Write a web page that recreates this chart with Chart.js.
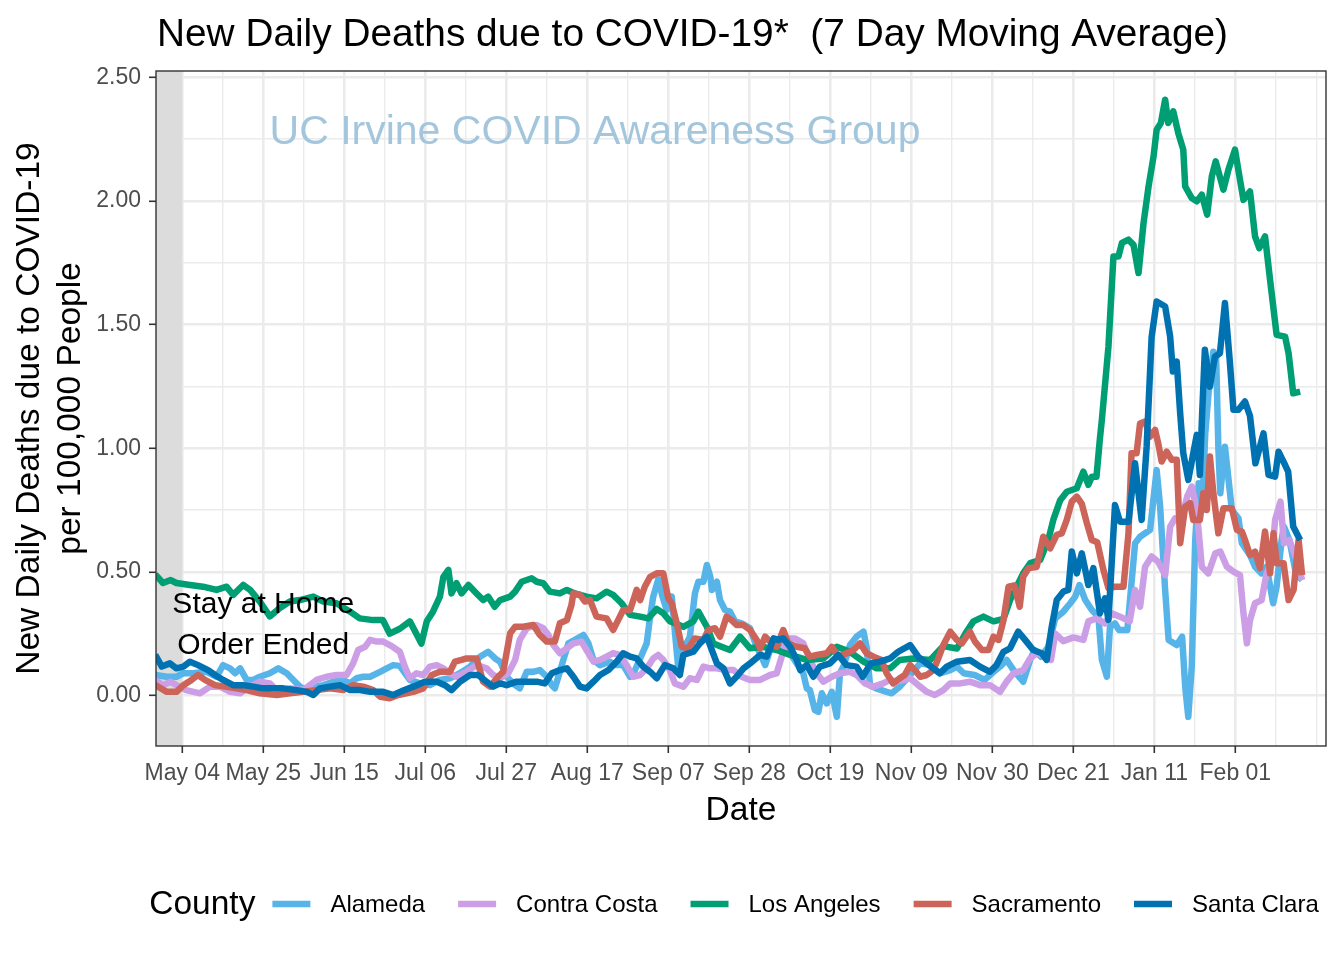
<!DOCTYPE html>
<html><head><meta charset="utf-8">
<script src="https://cdn.jsdelivr.net/npm/chart.js@4.4.0/dist/chart.umd.min.js"></script>
<style>html,body{margin:0;padding:0;background:#fff;}canvas{display:block;}</style>
</head><body>
<canvas id="c" width="1344" height="960"></canvas>
<script>
// ---------- data (x = days since May 04, 2020) ----------
const countyNames = ['Alameda', 'Contra Costa', 'Los Angeles', 'Sacramento', 'Santa Clara'];
const countyColors = ['#56B4E9', '#CC9EE6', '#009E73', '#CC6459', '#0072B2'];
const tickLabels = ['May 04','May 25','Jun 15','Jul 06','Jul 27','Aug 17','Sep 07','Sep 28','Oct 19','Nov 09','Nov 30','Dec 21','Jan 11','Feb 01'];
const tickDays = [0,21,42,63,84,105,126,147,168,189,210,231,252,273];
const minorTickDays = [10.5,31.5,52.5,73.5,94.5,115.5,136.5,157.5,178.5,199.5,220.5,241.5,262.5,283.5,294];
const yTicks = [0,0.5,1,1.5,2,2.5];
const yMinorTicks = [0.25,0.75,1.25,1.75,2.25];
const xRange = [-6.8, 296.5];
const yRange = [-0.204, 2.525];
const orderEndDay = 0;
const titleText = 'New Daily Deaths due to COVID-19*  (7 Day Moving Average)';
const watermarkText = 'UC Irvine COVID Awareness Group';
const watermarkAt = [107, 2.274];
const noteLines = ['Stay at Home', 'Order Ended'];
const noteAt = [21, 0.285];
const legendTitle = 'County';

const alameda = [[-7,0.083],[-4,0.076],[-1.5,0.076],[0.3,0.09],[2.8,0.09],[6.3,0.096],[8.9,0.076],[10.6,0.123],[12.4,0.11],[13.7,0.09],[15,0.11],[16.7,0.063],[18.4,0.063],[20.1,0.076],[22.7,0.09],[24.9,0.11],[27.1,0.09],[28.8,0.063],[30.5,0.036],[32.3,0.022],[34,0.036],[36.6,0.042],[39.2,0.056],[41.7,0.063],[43.5,0.049],[45.2,0.07],[46.9,0.076],[48.7,0.076],[51.3,0.096],[53,0.11],[54.7,0.123],[56.4,0.12],[59,0.063],[61.6,0.049],[64.2,0.042],[66.8,0.063],[69.4,0.07],[72,0.09],[74.6,0.117],[77.2,0.157],[79.3,0.177],[81.1,0.15],[82.4,0.137],[84.1,0.076],[86.3,0.042],[87.5,0.029],[89.3,0.096],[91,0.096],[92.7,0.103],[94.5,0.076],[95.8,0.042],[96.6,0.029],[97.5,0.076],[98.8,0.144],[100.1,0.211],[101.8,0.225],[104,0.245],[105.3,0.211],[106.6,0.144],[108.3,0.123],[110.8,0.137],[112.5,0.123],[114.3,0.123],[116.1,0.076],[117,0.09],[118.7,0.15],[120.4,0.211],[121.3,0.319],[122.1,0.40],[123.4,0.47],[124.5,0.40],[125.6,0.346],[126.9,0.40],[127.7,0.26],[128.6,0.11],[129.9,0.184],[131.6,0.238],[132.9,0.413],[133.8,0.46],[135.1,0.46],[136,0.528],[136.9,0.48],[137.3,0.427],[138.6,0.46],[139.4,0.386],[140.7,0.346],[142,0.339],[143.3,0.30],[145,0.292],[147.2,0.272],[148.9,0.197],[150.2,0.157],[151.1,0.123],[152.4,0.184],[154.5,0.197],[155.8,0.211],[157.6,0.171],[159.3,0.13],[161,0.09],[161.9,0.029],[162.7,0.022],[164,-0.059],[164.9,-0.066],[165.8,0.009],[167.1,-0.032],[168.4,0.015],[169.7,-0.086],[170.5,0.09],[171.4,0.117],[173.1,0.204],[174.8,0.238],[176.6,0.258],[177.4,0.197],[178.3,0.04],[179.9,0.029],[182.6,0.015],[183.9,0.009],[186,0.036],[188.7,0.083],[191.3,0.13],[193.9,0.123],[196.4,0.09],[199.1,0.103],[200.8,0.117],[202.6,0.09],[205.4,0.083],[208,0.063],[209.9,0.09],[212,0.117],[213.7,0.144],[215.5,0.103],[218,0.056],[219.8,0.144],[220.9,0.184],[222.6,0.157],[224.5,0.197],[226.3,0.312],[228.4,0.339],[230.2,0.373],[231.5,0.40],[232.6,0.447],[234.1,0.386],[235.8,0.346],[237.5,0.319],[238.4,0.144],[239.7,0.076],[240.5,0.278],[241.8,0.292],[242.8,0.265],[245,0.265],[247,0.616],[248.3,0.642],[249.6,0.656],[250.9,0.67],[252.6,0.912],[253.5,0.764],[254.8,0.427],[255.7,0.225],[257.8,0.204],[259.2,0.238],[260,0.036],[260.8,-0.086],[261.7,0.117],[262.6,0.629],[263.5,0.858],[264.4,0.75],[265.2,1.06],[266.2,1.25],[267.3,1.39],[268,1.38],[268.6,1.0],[269.1,0.818],[270.3,1.006],[272.1,0.75],[273.8,0.717],[274.7,0.616],[276.8,0.568],[278.1,0.521],[279.8,0.494],[281.1,0.521],[282.8,0.373],[283.7,0.44],[285,0.629],[285.6,0.683],[287,0.629],[288.7,0.494],[290.3,0.467]];

const contraCosta = [[-7,0.063],[-5,0.042],[-3,0.056],[-1.5,0.042],[1,0.022],[4.6,0.009],[7.2,0.036],[9.8,0.036],[12.4,0.015],[15,0.009],[17.6,0.036],[20.1,0.056],[22.7,0.049],[24.5,0.022],[28,0.029],[31.4,0.022],[34.8,0.063],[37.4,0.076],[40,0.083],[42.6,0.083],[44.3,0.13],[45.6,0.184],[47.4,0.197],[48.7,0.225],[50.4,0.218],[52.1,0.218],[54.3,0.2],[56.4,0.177],[57.7,0.117],[59,0.07],[60.7,0.09],[62.5,0.083],[64.2,0.117],[66,0.123],[67.7,0.11],[69.4,0.09],[71.1,0.076],[73.7,0.096],[76.3,0.123],[78.9,0.11],[80.6,0.083],[82.4,0.07],[84.5,0.09],[86.3,0.144],[87.5,0.225],[89.3,0.272],[91.9,0.285],[93.6,0.272],[94.9,0.245],[96.2,0.204],[97.9,0.171],[99.7,0.191],[101.4,0.211],[103.5,0.218],[104.8,0.184],[106.6,0.137],[108.3,0.144],[110,0.157],[111.7,0.171],[113.4,0.164],[115.2,0.123],[116.9,0.076],[118.7,0.083],[120.4,0.11],[122.1,0.15],[123.4,0.164],[124.7,0.144],[126.4,0.103],[127.7,0.049],[129.9,0.036],[131.6,0.07],[133.4,0.063],[135.1,0.117],[136.8,0.11],[138.6,0.11],[140.8,0.103],[142.9,0.103],[145,0.076],[147.2,0.063],[149.8,0.063],[152.4,0.083],[154.1,0.09],[155.4,0.157],[156.7,0.231],[158.9,0.231],[161,0.211],[162.7,0.144],[164.5,0.09],[166.2,0.056],[168.4,0.076],[170.5,0.09],[173.1,0.096],[174.8,0.083],[177,0.049],[179.2,0.036],[181.7,0.049],[183.5,0.063],[185.2,0.056],[188.7,0.07],[191.3,0.036],[193,0.015],[195.1,0.002],[197.3,0.022],[199.1,0.049],[201.7,0.049],[204.2,0.056],[206.8,0.042],[209.4,0.042],[212,0.015],[213.7,0.056],[215.5,0.09],[218,0.103],[219.8,0.15],[221.5,0.171],[224.1,0.157],[225.2,0.144],[226.3,0.25],[228.4,0.22],[231,0.235],[233.6,0.225],[234.9,0.30],[237,0.312],[239.2,0.292],[240.9,0.333],[243.1,0.319],[245.6,0.30],[247,0.427],[248.3,0.359],[249.6,0.521],[251.3,0.562],[253,0.541],[254.8,0.487],[256.1,0.683],[257.4,0.717],[259,0.71],[260.5,0.804],[261.7,0.845],[263,0.75],[264.3,0.521],[266,0.494],[267.8,0.575],[269.1,0.582],[270.8,0.521],[272.5,0.501],[274.2,0.487],[275.1,0.333],[276,0.211],[276.8,0.305],[278.1,0.373],[279.8,0.386],[281.1,0.494],[282.4,0.535],[283.3,0.71],[284.7,0.784],[285.6,0.616],[287,0.629],[288.9,0.548],[290.3,0.467]];

const losAngeles = [[-7,0.49],[-5,0.455],[-3,0.467],[-1.5,0.455],[2,0.447],[5.4,0.44],[8.9,0.427],[11.5,0.44],[13.2,0.407],[15.8,0.447],[17.6,0.427],[20.1,0.38],[22.7,0.32],[25.3,0.354],[27.9,0.38],[30.5,0.386],[34,0.40],[36.6,0.38],[40,0.373],[43.5,0.339],[46,0.312],[49.5,0.305],[52,0.305],[53.8,0.25],[56.4,0.27],[59,0.30],[62,0.21],[63.4,0.30],[65,0.339],[66.8,0.40],[67.7,0.48],[69,0.508],[69.8,0.413],[71.1,0.454],[72.4,0.413],[74.2,0.447],[76.3,0.413],[78,0.386],[79.3,0.40],[81,0.359],[82.4,0.386],[85,0.40],[86.3,0.42],[88,0.46],[90.6,0.474],[91.9,0.46],[93.6,0.454],[95.3,0.42],[97.9,0.413],[99.7,0.427],[101.8,0.413],[104.8,0.40],[107.4,0.393],[110,0.42],[111.7,0.407],[113.9,0.373],[116.1,0.326],[118.7,0.319],[120.8,0.312],[123,0.35],[124.7,0.333],[126.4,0.30],[129.9,0.278],[132.5,0.30],[133.8,0.339],[136,0.278],[137.7,0.21],[139.8,0.197],[142,0.184],[144.6,0.238],[147.2,0.191],[150.6,0.197],[154.1,0.184],[157.6,0.164],[161.9,0.144],[166.2,0.15],[169.7,0.197],[173.1,0.177],[176.6,0.137],[180,0.11],[183.5,0.11],[186,0.144],[189.5,0.15],[193.9,0.144],[197.3,0.2],[200.8,0.19],[203.4,0.26],[205.1,0.30],[207.7,0.319],[210.3,0.30],[212.9,0.31],[214.6,0.386],[216.3,0.44],[218,0.494],[219.8,0.535],[222.4,0.548],[224.5,0.629],[225.8,0.71],[227.6,0.79],[229.3,0.824],[231.9,0.838],[233.6,0.905],[234.9,0.852],[235.8,0.885],[237,0.885],[237.9,1.04],[238.4,1.115],[240.1,1.41],[241.4,1.775],[242.7,1.775],[243.6,1.83],[245.3,1.843],[246.6,1.822],[247.9,1.708],[249.2,1.91],[250.5,2.058],[251.8,2.18],[252.6,2.288],[253.7,2.315],[254.8,2.409],[255.6,2.315],[256.9,2.362],[258.2,2.274],[259.5,2.207],[260,2.058],[261.7,2.011],[263,1.998],[264.3,2.025],[265.7,1.944],[266.9,2.099],[267.9,2.16],[269.9,2.045],[271.2,2.126],[272.9,2.207],[274.2,2.085],[275.1,2.004],[276.8,2.038],[278.1,1.856],[279.2,1.809],[280.7,1.856],[282,1.681],[283.7,1.458],[285.9,1.451],[286.8,1.384],[288,1.222],[289.8,1.229]];

const sacramento = [[-7,0.042],[-4,0.015],[-1.5,0.015],[0.3,0.042],[2.4,0.063],[4.1,0.083],[5.9,0.063],[8.5,0.042],[11.1,0.036],[14.1,0.029],[16.7,0.022],[20.1,0.009],[24.5,0.002],[27.9,0.009],[31.4,0.015],[34.8,0.022],[38.3,0.029],[41.7,0.022],[44.3,0.042],[46.9,0.036],[49.5,0.022],[51.3,-0.005],[53.8,-0.011],[56,0.002],[59.9,0.015],[62.5,0.029],[64.7,0.083],[66.8,0.096],[69.4,0.096],[70.7,0.137],[72.4,0.144],[73.7,0.15],[76.3,0.15],[78,0.056],[79.8,0.036],[81.9,0.076],[83.2,0.096],[85,0.252],[86.3,0.278],[88.4,0.278],[91,0.285],[92.7,0.245],[94.5,0.218],[96.6,0.218],[97.9,0.292],[99.7,0.305],[100.9,0.366],[101.4,0.413],[103.1,0.407],[104.4,0.38],[105.7,0.386],[107.4,0.319],[110,0.312],[111.7,0.265],[113,0.305],[114.3,0.346],[116.1,0.346],[117.8,0.427],[118.7,0.386],[119.9,0.44],[121.3,0.48],[123,0.494],[124.7,0.494],[126,0.393],[126.9,0.373],[128.2,0.292],[129.5,0.197],[131.2,0.191],[132.9,0.231],[135.1,0.225],[136.4,0.265],[138.1,0.272],[139.4,0.238],[141.1,0.319],[142.4,0.305],[143.7,0.285],[145.5,0.285],[147.2,0.265],[148.9,0.225],[149.8,0.191],[151.1,0.238],[152.4,0.218],[154.1,0.197],[155.8,0.265],[157.1,0.211],[159.3,0.197],[161.4,0.191],[162.7,0.157],[164.5,0.164],[167.1,0.171],[168.4,0.197],[170.1,0.157],[172.2,0.171],[174,0.184],[175.7,0.211],[177.4,0.171],[179.2,0.157],[181.3,0.144],[182.6,0.09],[184.3,0.049],[186,0.07],[187.3,0.083],[188.7,0.123],[189.9,0.103],[191.3,0.076],[193,0.083],[194.7,0.103],[196,0.15],[197.3,0.204],[199.1,0.258],[200.8,0.225],[202.1,0.211],[204.2,0.258],[205.5,0.218],[207.3,0.184],[209,0.184],[210.3,0.238],[211.6,0.225],[212.9,0.305],[214.2,0.44],[215.7,0.445],[217.1,0.359],[218,0.48],[219.4,0.515],[221.5,0.52],[223.2,0.642],[225,0.595],[226.7,0.65],[228,0.656],[229.3,0.71],[230.6,0.784],[231.9,0.804],[233.2,0.775],[234.5,0.697],[235.8,0.629],[237.2,0.62],[238.8,0.508],[240.1,0.434],[241.8,0.44],[244,0.44],[245.3,0.656],[246.1,0.98],[247.4,0.98],[248.3,1.10],[249.6,1.108],[250.9,1.047],[252.2,1.074],[253,1.02],[253.9,0.946],[255.2,0.986],[256.5,0.953],[257.8,0.953],[258.7,0.616],[260,0.764],[261.3,0.778],[262.1,0.71],[263.8,0.71],[264.7,0.818],[265.6,0.75],[266.4,0.966],[267.3,0.818],[268.6,0.656],[269.9,0.757],[272.1,0.757],[273.4,0.67],[274.7,0.663],[275.5,0.629],[276.8,0.568],[278.1,0.582],[279.4,0.515],[280.7,0.663],[282,0.494],[282.9,0.656],[283.7,0.535],[285.5,0.535],[286.8,0.386],[288.1,0.427],[289.4,0.629],[290.3,0.487]];

const santaClara = [[-7,0.165],[-5.3,0.117],[-3.2,0.13],[-1.5,0.11],[0.3,0.117],[2,0.137],[4.1,0.123],[6.7,0.103],[8.5,0.083],[10.6,0.063],[13.2,0.042],[15.8,0.042],[18.4,0.036],[21,0.029],[23.6,0.029],[26.2,0.029],[29.7,0.022],[32.3,0.015],[34,0.002],[35.7,0.029],[38.3,0.036],[40.9,0.042],[43.5,0.022],[46.1,0.022],[48.7,0.015],[52.1,0.015],[54.7,0.002],[57.3,0.02],[59.9,0.036],[62.9,0.056],[66,0.056],[68.1,0.042],[69.8,0.022],[72,0.056],[74.6,0.083],[76.7,0.083],[78.9,0.056],[80.6,0.036],[82.4,0.049],[84.1,0.042],[86.7,0.056],[89.3,0.056],[91.9,0.056],[94,0.049],[95.8,0.09],[97.9,0.103],[99.7,0.11],[101.4,0.076],[103.1,0.036],[104.8,0.029],[106.6,0.056],[108.3,0.083],[110.5,0.103],[112.6,0.137],[114.3,0.171],[116.1,0.157],[117.8,0.15],[119.5,0.117],[121.3,0.096],[123,0.07],[125.1,0.123],[127.3,0.11],[129,0.083],[129.9,0.164],[132.5,0.177],[134.2,0.211],[136,0.238],[137.3,0.184],[138.6,0.13],[140.3,0.11],[142,0.049],[143.7,0.076],[145.5,0.11],[147.2,0.13],[149.8,0.164],[151.5,0.157],[153.3,0.231],[154.5,0.225],[155.8,0.231],[157.6,0.197],[159.3,0.144],[160.2,0.103],[161.9,0.123],[163.6,0.076],[165.3,0.117],[167.9,0.13],[170.1,0.164],[172.2,0.123],[174.8,0.117],[176.4,0.076],[178.5,0.13],[180.9,0.137],[183.5,0.15],[185.6,0.177],[188.7,0.204],[190.8,0.157],[193,0.13],[196.4,0.09],[198.2,0.117],[200.8,0.137],[204.2,0.144],[206.8,0.117],[209.4,0.096],[211.1,0.123],[212.9,0.177],[214.6,0.191],[216.7,0.258],[218.5,0.225],[220.6,0.184],[222.8,0.171],[224.1,0.144],[225.4,0.278],[226.7,0.386],[228.4,0.42],[229.7,0.427],[230.6,0.582],[231.9,0.494],[233.2,0.575],[234.9,0.447],[236.2,0.515],[237.9,0.333],[239.2,0.393],[240.1,0.305],[241.8,0.77],[243.1,0.703],[245.3,0.703],[247,0.939],[248.7,0.71],[250,1.006],[251.3,1.45],[252.6,1.593],[254.8,1.573],[256.1,1.451],[256.8,1.31],[257.8,1.35],[258.7,1.14],[259.5,0.98],[260.8,0.872],[262.1,0.98],[263,1.054],[263.8,0.892],[264.4,1.143],[265.1,1.398],[266.4,1.249],[267.7,1.37],[269,1.384],[270.3,1.587],[271.6,1.344],[272.5,1.155],[273.8,1.155],[275.5,1.189],[276.8,1.13],[278.2,0.939],[280.3,1.06],[281.6,0.892],[283.3,0.885],[284.2,0.986],[285.9,0.932],[286.7,0.905],[288,0.683],[289.8,0.629]];

const seriesValues = [alameda, contraCosta, losAngeles, sacramento, santaClara];

// ---------- styling ----------
const FONT = '"Liberation Sans", Arial, Helvetica, sans-serif';
const LINE_W = 6.5;
const isMajorX = v => tickDays.includes(v);
const isMajorY = v => yTicks.some(t => Math.abs(t - v) < 1e-9);

const decor = {
  id: 'decor',
  beforeDatasetsDraw(chart) {
    const {ctx, chartArea: a, scales: {x, y}} = chart;
    ctx.save();
    ctx.fillStyle = '#DCDCDC';
    const x1 = x.getPixelForValue(orderEndDay);
    ctx.fillRect(a.left, a.top, x1 - a.left, a.bottom - a.top);
    ctx.font = '41px ' + FONT;
    ctx.fillStyle = '#A3C6DD';
    ctx.textAlign = 'center';
    ctx.textBaseline = 'middle';
    ctx.fillText(watermarkText, x.getPixelForValue(watermarkAt[0]), y.getPixelForValue(watermarkAt[1]));
    ctx.restore();
  },
  afterDatasetsDraw(chart) {
    const {ctx, chartArea: a, scales: {x, y}} = chart;
    ctx.save();
    ctx.font = '30px ' + FONT;
    ctx.fillStyle = '#000';
    ctx.textAlign = 'center';
    ctx.textBaseline = 'middle';
    const cx = x.getPixelForValue(noteAt[0]), cy = y.getPixelForValue(noteAt[1]);
    const lh = 41;
    noteLines.forEach((t, i) => ctx.fillText(t, cx, cy + (i - (noteLines.length - 1) / 2) * lh));
    ctx.strokeStyle = '#333333';
    ctx.lineWidth = 1.4;
    ctx.strokeRect(a.left, a.top, a.right - a.left, a.bottom - a.top);
    ctx.restore();
  },
  afterDraw(chart) {
    const {ctx, chartArea: a} = chart;
    ctx.save();
    ctx.font = '38.8px ' + FONT;
    ctx.fillStyle = '#000';
    ctx.textAlign = 'left';
    ctx.textBaseline = 'alphabetic';
    ctx.fillText(titleText, a.left + 1, 46);
    const ly = 904;
    const titleFont = '33.5px ' + FONT, itemFont = '24px ' + FONT;
    ctx.font = titleFont;
    const tw = ctx.measureText(legendTitle).width;
    ctx.font = itemFont;
    const ds = chart.data.datasets;
    const lw = ds.map(d => ctx.measureText(d.label).width);
    const keyW = 38, keyGap = 20, itemGap = 33, titleGap = 17;
    const total = tw + titleGap + lw.reduce((s, w) => s + keyW + keyGap + w, 0) + itemGap * (ds.length - 1);
    let px = 734 - total / 2;
    ctx.textBaseline = 'middle';
    ctx.font = titleFont;
    ctx.fillText(legendTitle, px, ly + 1);
    px += tw + titleGap;
    ctx.font = itemFont;
    ds.forEach((d, i) => {
      ctx.strokeStyle = d.borderColor;
      ctx.lineWidth = LINE_W;
      ctx.lineCap = 'butt';
      ctx.beginPath();
      ctx.moveTo(px, ly);
      ctx.lineTo(px + keyW, ly);
      ctx.stroke();
      px += keyW + keyGap;
      ctx.fillStyle = '#000';
      ctx.fillText(d.label, px, ly + 1);
      px += lw[i] + itemGap;
    });
    ctx.restore();
  }
};

const datasets = countyNames.map((name, i) => ({
  label: name,
  data: seriesValues[i].map(([d, v]) => ({x: d, y: v})),
  borderColor: countyColors[i],
  backgroundColor: countyColors[i],
  borderWidth: LINE_W,
  borderJoinStyle: 'round',
  borderCapStyle: 'butt',
  pointRadius: 0,
  tension: 0,
  fill: false,
  order: countyNames.length - i
}));

new Chart(document.getElementById('c'), {
  type: 'line',
  data: {datasets},
  plugins: [decor],
  options: {
    responsive: false,
    animation: false,
    devicePixelRatio: 1,
    layout: {padding: {left: 0, right: 18, top: 71, bottom: 129}},
    plugins: {legend: {display: false}, title: {display: false}, tooltip: {enabled: false}},
    scales: {
      x: {
        type: 'linear',
        min: xRange[0],
        max: xRange[1],
        afterFit: s => { s.height = 85; },
        afterBuildTicks: s => { s.ticks = tickDays.concat(minorTickDays).sort((p, q) => p - q).map(v => ({value: v})); },
        ticks: {
          autoSkip: false, maxRotation: 0, minRotation: 0, padding: 7,
          color: '#4D4D4D', font: {family: FONT, size: 23},
          callback: v => { const k = tickDays.indexOf(v); return k >= 0 ? tickLabels[k] : ''; }
        },
        grid: {
          color: '#EBEBEB',
          lineWidth: c => isMajorX(c.tick.value) ? 2.6 : 1.4,
          drawTicks: true,
          tickLength: 7,
          tickColor: c => isMajorX(c.tick.value) ? '#333333' : 'rgba(0,0,0,0)',
          tickWidth: 1.6
        },
        border: {display: false},
        title: {display: true, text: 'Date', color: '#000', font: {family: FONT, size: 33.5}, padding: {top: 0, bottom: 0}}
      },
      y: {
        type: 'linear',
        min: yRange[0],
        max: yRange[1],
        afterFit: s => { s.width = 156; },
        afterBuildTicks: s => { s.ticks = yTicks.concat(yMinorTicks).sort((p, q) => p - q).map(v => ({value: v})); },
        ticks: {
          padding: 8, color: '#4D4D4D', font: {family: FONT, size: 23},
          callback: v => isMajorY(v) ? v.toFixed(2) : ''
        },
        grid: {
          color: '#EBEBEB',
          lineWidth: c => isMajorY(c.tick.value) ? 2.6 : 1.4,
          drawTicks: true,
          tickLength: 7,
          tickColor: c => isMajorY(c.tick.value) ? '#333333' : 'rgba(0,0,0,0)',
          tickWidth: 1.6
        },
        border: {display: false},
        title: {display: true, text: ['New Daily Deaths due to COVID-19', 'per 100,000 People'], color: '#000', font: {family: FONT, size: 33.5}, padding: {top: 10, bottom: 0}}
      }
    }
  }
});
</script>
</body></html>
